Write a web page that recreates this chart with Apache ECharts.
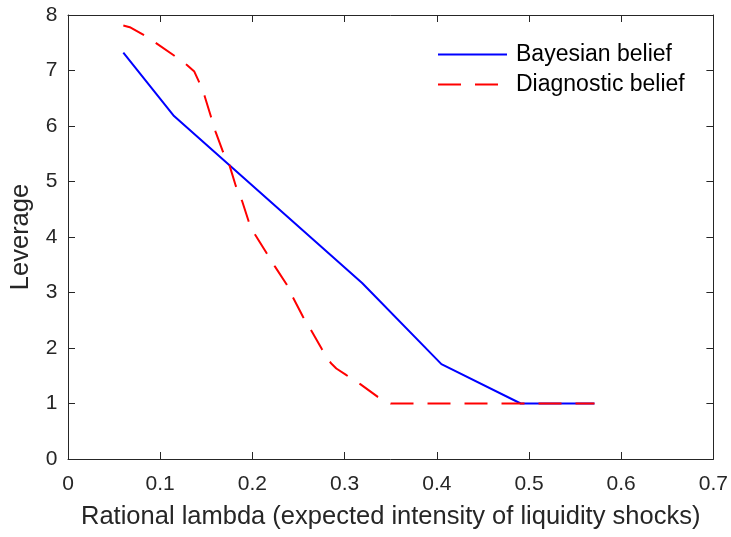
<!DOCTYPE html>
<html>
<head>
<meta charset="utf-8">
<script src="https://cdn.jsdelivr.net/npm/echarts@6/dist/echarts.min.js"></script>
<style>
html,body{margin:0;padding:0;background:#fff;}
#chart{width:731px;height:537px;}
</style>
</head>
<body>
<div id="chart"></div>
<script>
const seriesNames = ['Bayesian belief', 'Diagnostic belief'];
const bayesX = [0.060, 0.115, 0.319, 0.405, 0.491, 0.571];
const bayesY = [7.32, 6.18, 3.17, 1.71, 1.00, 1.00];
const diagX = [0.060, 0.067, 0.082, 0.095, 0.115, 0.129, 0.137, 0.142, 0.148, 0.155, 0.160, 0.168, 0.175, 0.182, 0.189, 0.196, 0.203, 0.215, 0.224, 0.237, 0.244, 0.255, 0.264, 0.275, 0.285, 0.291, 0.302, 0.317, 0.336, 0.350, 0.571];
const diagY = [7.81, 7.78, 7.64, 7.50, 7.27, 7.10, 6.98, 6.80, 6.55, 6.17, 5.90, 5.54, 5.30, 4.92, 4.64, 4.28, 4.04, 3.72, 3.48, 3.15, 2.91, 2.56, 2.31, 1.99, 1.73, 1.63, 1.51, 1.35, 1.12, 1.00, 1.00];
const xTicks = [0, 0.1, 0.2, 0.3, 0.4, 0.5, 0.6, 0.7];
const yTicks = [0, 1, 2, 3, 4, 5, 6, 7, 8];
const xName = 'Rational lambda (expected intensity of liquidity shocks)';
const yName = 'Leverage';

const FONT = '"Liberation Sans", Arial, Helvetica, sans-serif';
const AX = '#262626';
const toPairs = (xs, ys) => xs.map((x, i) => [x, ys[i]]);

const baseX = {
  type: 'value', min: xTicks[0], max: xTicks[xTicks.length - 1], interval: 0.1,
  axisLine: { show: true, onZero: false, lineStyle: { color: AX, width: 1 } },
  axisTick: { show: true, inside: true, length: 7, lineStyle: { color: AX } },
  splitLine: { show: false }
};
const baseY = {
  type: 'value', min: yTicks[0], max: yTicks[yTicks.length - 1], interval: 1,
  axisLine: { show: true, onZero: false, lineStyle: { color: AX, width: 1 } },
  axisTick: { show: true, inside: true, length: 7, lineStyle: { color: AX } },
  splitLine: { show: false }
};

const chart = echarts.init(document.getElementById('chart'));
chart.setOption({
  animation: false,
  backgroundColor: '#fff',
  grid: { left: 66.6, right: 16, top: 15, bottom: 78, containLabel: false },
  legend: {
    data: seriesNames,
    orient: 'vertical',
    left: 437, top: 43, padding: 0,
    itemWidth: 69, itemHeight: 14, itemGap: 7,
    itemStyle: { opacity: 0 },
    textStyle: { fontFamily: FONT, fontSize: 23, color: '#000', lineHeight: 22, padding: [0, 0, 0, 4] }
  },
  xAxis: [
    Object.assign({}, baseX, {
      position: 'bottom',
      name: xName, nameLocation: 'middle', nameGap: 45,
      nameTextStyle: { fontFamily: FONT, fontSize: 25.5, color: AX },
      axisLabel: { fontFamily: FONT, fontSize: 21, color: AX, margin: 15,
        formatter: v => String(Math.round(v * 10) / 10) }
    }),
    Object.assign({}, baseX, { position: 'top', axisLabel: { show: false } })
  ],
  yAxis: [
    Object.assign({}, baseY, {
      position: 'left',
      name: yName, nameLocation: 'middle', nameGap: 34,
      nameTextStyle: { fontFamily: FONT, fontSize: 25.5, color: AX },
      axisLabel: { fontFamily: FONT, fontSize: 21, color: AX, margin: 10.5 }
    }),
    Object.assign({}, baseY, { position: 'right', axisLabel: { show: false } })
  ],
  series: [
    {
      name: seriesNames[0], type: 'line', xAxisIndex: 0, yAxisIndex: 0,
      data: toPairs(bayesX, bayesY), symbol: 'none', smooth: false,
      lineStyle: { color: '#0000ff', width: 2, type: 'solid' },
      itemStyle: { color: '#0000ff' }
    },
    {
      name: seriesNames[1], type: 'line', xAxisIndex: 0, yAxisIndex: 0,
      data: toPairs(diagX, diagY), symbol: 'none', smooth: false,
      lineStyle: { color: '#ff0000', width: 2, type: [23, 14] },
      itemStyle: { color: '#ff0000' }
    }
  ]
});
</script>
</body>
</html>
